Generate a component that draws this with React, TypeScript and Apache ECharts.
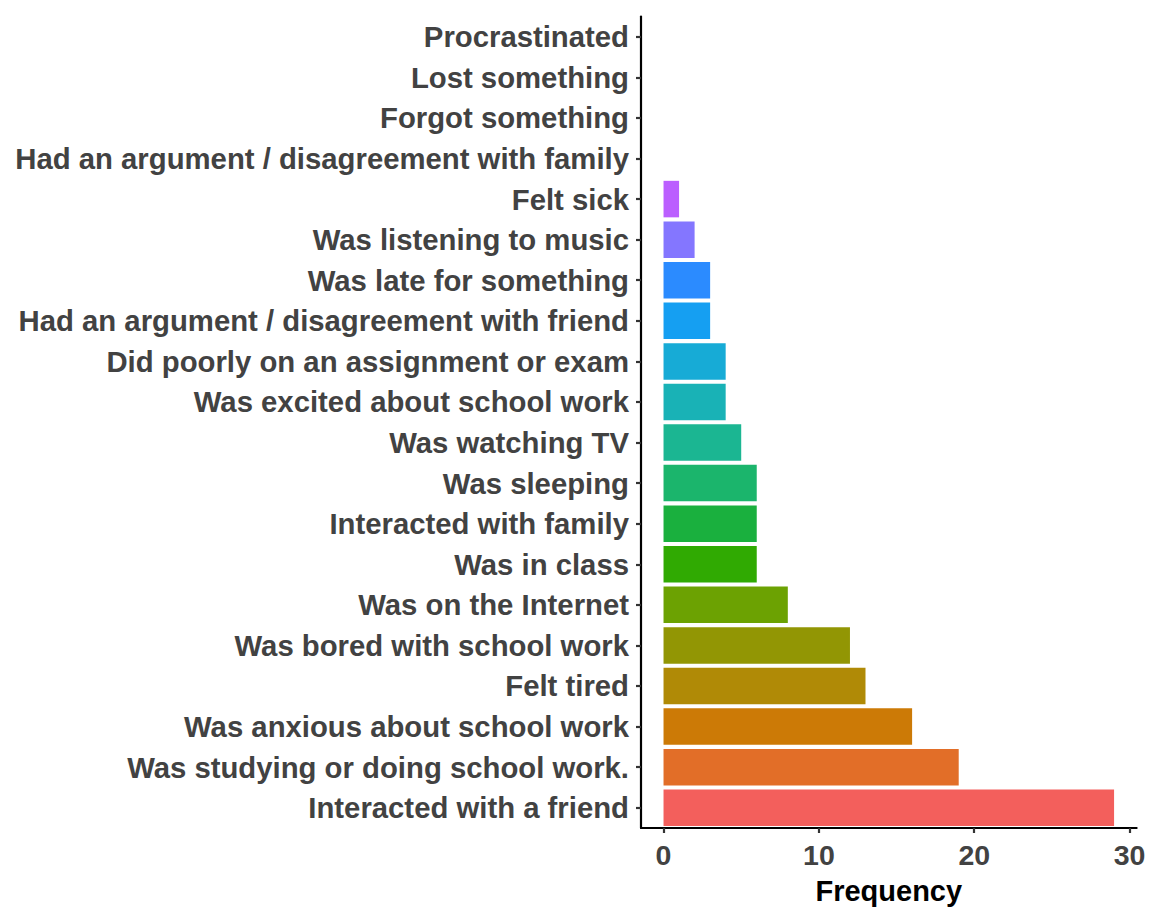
import React, { useEffect, useRef } from "react";
import * as echarts from "echarts";

// bottom to top
const categories = [
  "Interacted with a friend",
  "Was studying or doing school work.",
  "Was anxious about school work",
  "Felt tired",
  "Was bored with school work",
  "Was on the Internet",
  "Was in class",
  "Interacted with family",
  "Was sleeping",
  "Was watching TV",
  "Was excited about school work",
  "Did poorly on an assignment or exam",
  "Had an argument / disagreement with friend",
  "Was late for something",
  "Was listening to music",
  "Felt sick",
  "Had an argument / disagreement with family",
  "Forgot something",
  "Lost something",
  "Procrastinated",
];

const frequencies = [29, 19, 16, 13, 12, 8, 6, 6, 6, 5, 4, 4, 3, 3, 2, 1, 0, 0, 0, 0];

const barColors = [
  "#F35F5C", "#E26E28", "#CC7A06", "#B08A06", "#929604", "#6CA202", "#30AA02",
  "#1AB03E", "#1BB56C", "#1BB692", "#19B2B6", "#17ABD6", "#159FF2", "#2B8BFF",
  "#8476FF", "#BB5FFF", "#E052E8", "#F54FC4", "#FA56A0", "#F75A7E",
];

const xTicks = [0, 10, 20, 30];
const xTitle = "Frequency";

const FONT = "'Liberation Sans', Arial, Helvetica, sans-serif";

export default function App() {
  const ref = useRef<HTMLDivElement>(null);
  useEffect(() => {
    if (!ref.current) return;
    const chart = echarts.init(ref.current, null, { renderer: "svg" });
    chart.setOption({
      animation: false,
      backgroundColor: "#ffffff",
      grid: { left: 641, right: 15.4, top: 16.5, bottom: 93, containLabel: false },
      xAxis: {
        type: "value",
        min: -1.45,
        max: 30.45,
        splitLine: { show: false },
        axisLine: { show: true, onZero: false, lineStyle: { color: "#000", width: 2.2 } },
        axisTick: {
          show: true,
          length: 5,
          customValues: xTicks,
          lineStyle: { color: "#333", width: 2.2 },
        },
        axisLabel: {
          customValues: xTicks,
          margin: 12,
          fontFamily: FONT,
          fontWeight: "bold",
          fontSize: 28.5,
          color: "#424242",
        },
        name: xTitle,
        nameLocation: "middle",
        nameGap: 48,
        nameTextStyle: { fontFamily: FONT, fontWeight: "bold", fontSize: 29, color: "#000" },
      },
      yAxis: {
        type: "category",
        data: categories,
        axisLine: { show: true, onZero: false, lineStyle: { color: "#000", width: 2.2 } },
        axisTick: { show: true, length: 5, alignWithLabel: true, lineStyle: { color: "#333", width: 2.2 } },
        axisLabel: {
          margin: 12,
          fontFamily: FONT,
          fontWeight: "bold",
          fontSize: 29.3,
          color: "#424242",
          interval: 0,
        },
      },
      series: [
        {
          type: "bar",
          barWidth: "90%",
          data: frequencies.map((v, i) => ({ value: v, itemStyle: { color: barColors[i] } })),
        },
      ],
    });
    return () => chart.dispose();
  }, []);
  return <div ref={ref} style={{ position: "fixed", left: 0, top: 0, width: 1152, height: 921 }} />;
}
